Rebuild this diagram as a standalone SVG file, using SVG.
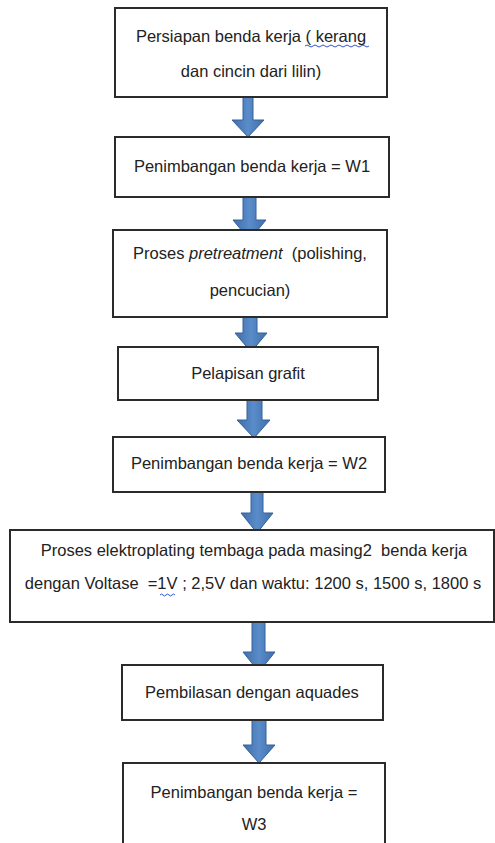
<svg xmlns="http://www.w3.org/2000/svg" width="495" height="843" viewBox="0 0 495 843">
<defs>
<linearGradient id="ag" x1="0" y1="0" x2="1" y2="0">
<stop offset="0" stop-color="#3f6fa8"/>
<stop offset="0.5" stop-color="#5a8ccb"/>
<stop offset="1" stop-color="#3f6fa8"/>
</linearGradient>
</defs>
<style>
.box{fill:#fff;stroke:#2b2b2b;stroke-width:2}
.t{font-family:"Liberation Sans",Arial,sans-serif;font-size:16.5px;fill:#222;text-anchor:middle;white-space:pre}
.arr{fill:url(#ag);stroke:#36609a;stroke-width:1}
.sq{fill:none;stroke:#3355cc;stroke-width:1}
</style>
<rect width="495" height="843" fill="#fff"/>
<g id="connectors">
<path class="arr" d="M243,97 H253 V120 H264 L248,137 L232,120 H243 Z"/>
<path class="arr" d="M243,197 H256 V220 H266 L249.5,240 L233,220 H243 Z"/>
<path class="arr" d="M243,317 H257 V333 H267 L251,352 L235,333 H243 Z"/>
<path class="arr" d="M247,400 H262 V420 H270 L254,438 L237,420 H247 Z"/>
<path class="arr" d="M251,492 H263 V513 H273 L257,533 L241,513 H251 Z"/>
<path class="arr" d="M252,622 H265 V652 H275 L259,672 L243,652 H252 Z"/>
<path class="arr" d="M252,720 H266 V745 H275 L259,763 L243,745 H252 Z"/>
</g>
<g id="n1">
<rect class="box" x="115" y="8" width="272" height="89"/>
<text class="t" x="251" y="42">Persiapan benda kerja ( kerang</text>
<text class="t" x="251" y="77">dan cincin dari lilin)</text>
<path class="sq" d="M305,46 q2,-2 4,0 t4,0 t4,0 t4,0 t4,0 t4,0 t4,0 t4,0 t4,0 t4,0 t4,0 t4,0 t4,0 t4,0 t4,0 t4,0"/>
</g>
<g id="n2">
<rect class="box" x="115" y="137" width="274" height="60"/>
<text class="t" x="252" y="172">Penimbangan benda kerja = W1</text>
</g>
<g id="n3">
<rect class="box" x="113" y="230" width="274" height="87"/>
<text class="t" x="250" y="259">Proses <tspan font-style="italic">pretreatment</tspan>  (polishing,</text>
<text class="t" x="250" y="296">pencucian)</text>
</g>
<g id="n4">
<rect class="box" x="118" y="347" width="260" height="53"/>
<text class="t" x="248" y="379">Pelapisan grafit</text>
</g>
<g id="n5">
<rect class="box" x="113" y="437" width="272" height="55"/>
<text class="t" x="249" y="469">Penimbangan benda kerja = W2</text>
</g>
<g id="n6">
<rect class="box" x="10" y="530" width="484" height="92"/>
<text class="t" x="254" y="556">Proses elektroplating tembaga pada masing2  benda kerja</text>
<text class="t" x="253" y="589">dengan Voltase  =1V ; 2,5V dan waktu: 1200 s, 1500 s, 1800 s</text>
<path class="sq" d="M160,595 q1.5,-2 3,0 t3,0 t3,0 t3,0 t3,0"/>
</g>
<g id="n7">
<rect class="box" x="122" y="665" width="261" height="55"/>
<text class="t" x="252" y="698">Pembilasan dengan aquades</text>
</g>
<g id="n8">
<rect class="box" x="123" y="763" width="262" height="90"/>
<text class="t" x="254" y="798">Penimbangan benda kerja =</text>
<text class="t" x="254" y="830">W3</text>
</g>
</svg>
